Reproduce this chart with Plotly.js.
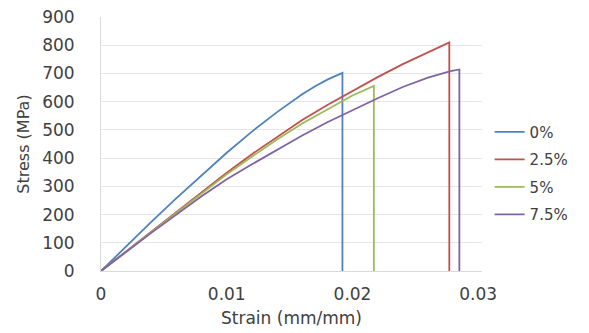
<!DOCTYPE html>
<html>
<head>
<meta charset="utf-8">
<script src="https://cdn.plot.ly/plotly-3.0.1.min.js"></script>
<style>html,body{margin:0;padding:0;background:#fff;}#chart{width:589px;height:333px;}</style>
</head>
<body>
<div id="chart"></div>
<script>
// Series names
const seriesNames = ["0%", "2.5%", "5%", "7.5%"];
const seriesColors = ["#4F81BD", "#C0504D", "#9BBB59", "#8064A2"];

// 0% series
const strain0 = [0, 0.002, 0.004, 0.006, 0.008, 0.010, 0.012, 0.014, 0.016, 0.017, 0.018, 0.0187, 0.0192, 0.0192];
const stress0 = [0, 88, 174, 258, 340, 419, 494, 563, 626, 654, 678, 692, 702, 0];

// 2.5% series
const strain25 = [0, 0.004, 0.008, 0.010, 0.012, 0.014, 0.016, 0.018, 0.020, 0.022, 0.024, 0.026, 0.0277, 0.0277];
const stress25 = [0, 140, 280, 348, 414, 476, 535, 588, 638, 687, 733, 774, 810, 0];

// 5% series
const strain5 = [0, 0.004, 0.008, 0.010, 0.012, 0.014, 0.016, 0.018, 0.020, 0.0217, 0.0217];
const stress5 = [0, 138, 275, 343, 405, 466, 523, 574, 622, 656, 0];

// 7.5% series
const strain75 = [0, 0.004, 0.008, 0.010, 0.012, 0.014, 0.016, 0.018, 0.020, 0.022, 0.024, 0.026, 0.0278, 0.0285, 0.0285];
const stress75 = [0, 135, 265, 325, 378, 430, 480, 527, 570, 612, 652, 685, 708, 714, 0];

const xs = [strain0, strain25, strain5, strain75];
const ys = [stress0, stress25, stress5, stress75];

const traces = xs.map((x, i) => ({
  x: x, y: ys[i], type: "scatter", mode: "lines", name: seriesNames[i],
  legendgroup: "g" + i,
  line: {color: seriesColors[i], width: 1.8},
  hoverinfo: "skip"
}));

const tickFont = {family: "DejaVu Sans", size: 17, color: "#404040"};

const layout = {
  width: 589, height: 333,
  margin: {l: 101, r: 107, t: 17, b: 62},
  paper_bgcolor: "#fff", plot_bgcolor: "#fff",
  showlegend: true,
  legend: {
    x: 1.02, xanchor: "left", y: 0.612, yanchor: "top",
    traceorder: "grouped", tracegroupgap: 5,
    itemwidth: 30,
    font: {family: "DejaVu Sans", size: 15, color: "#404040"},
    bgcolor: "rgba(0,0,0,0)"
  },
  xaxis: {
    range: [0, 0.0303], tickvals: [0, 0.01, 0.02, 0.03], ticktext: ["0", "0.01", "0.02", "0.03"],
    showgrid: false, zeroline: false, showline: true, linecolor: "#d9d9d9", linewidth: 1,
    ticks: "", tickfont: tickFont, ticklabelstandoff: 8,
    title: {text: "Strain (mm/mm)", font: {family: "DejaVu Sans", size: 17, color: "#404040"}, standoff: 8},
    automargin: false
  },
  yaxis: {
    range: [0, 900], dtick: 100, tick0: 0,
    showgrid: true, gridcolor: "#e6e6e6", gridwidth: 1,
    zeroline: false, showline: true, linecolor: "#d9d9d9", linewidth: 1,
    ticks: "", tickfont: tickFont, ticklabelstandoff: 22,
    title: {text: "Stress (MPa)", font: {family: "DejaVu Sans", size: 16, color: "#404040"}, standoff: 8},
    automargin: false
  }
};

Plotly.newPlot("chart", traces, layout, {displayModeBar: false, staticPlot: true});
</script>
</body>
</html>
